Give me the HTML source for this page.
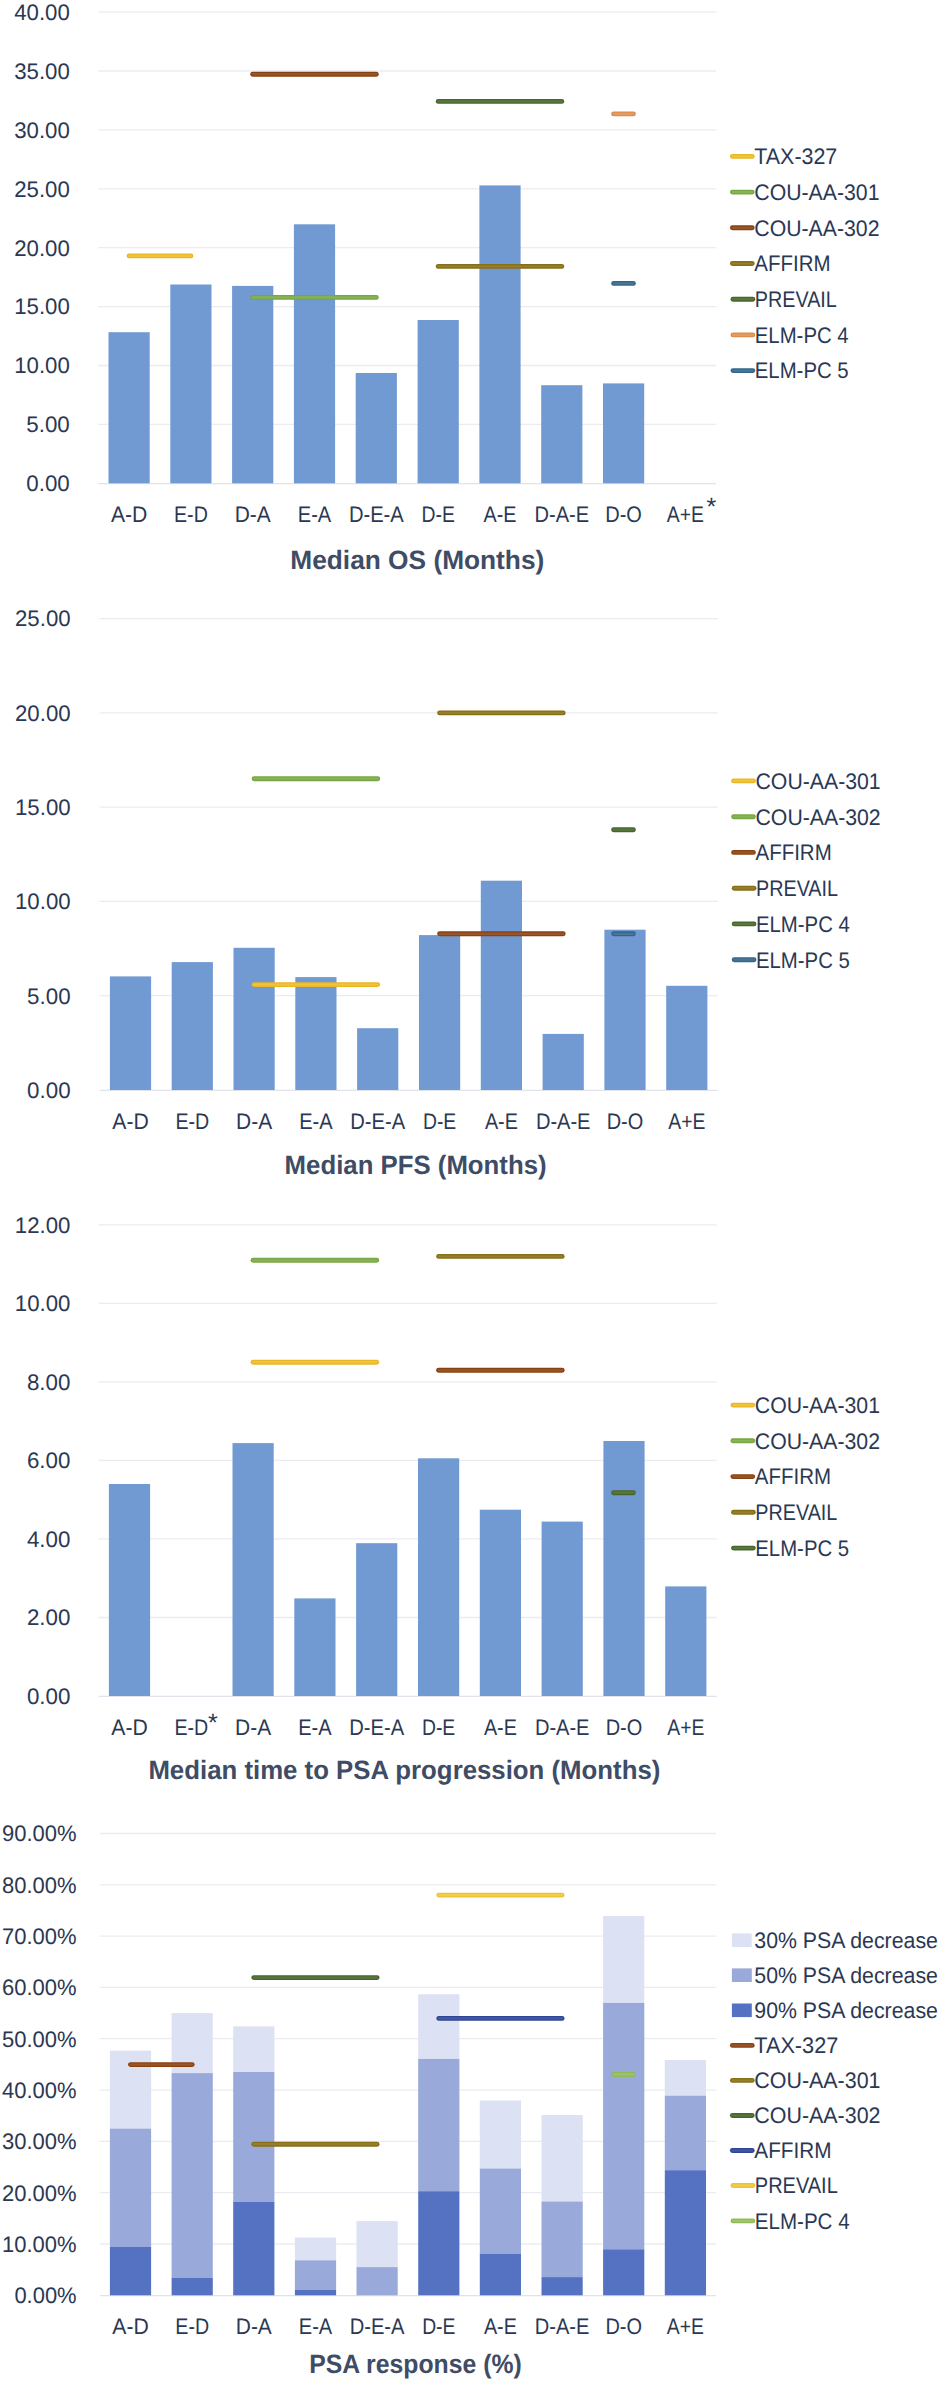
<!DOCTYPE html>
<html lang="en">
<head>
<meta charset="utf-8">
<title>Median OS, PFS, time to PSA progression and PSA response by treatment sequence</title>
<style>
html,body{margin:0;padding:0;background:#fff;}
body{width:940px;height:2381px;overflow:hidden;}
svg{display:block;}
svg text{font-family:"Liberation Sans",sans-serif;font-size:22.4px;fill:#2b3853;text-rendering:geometricPrecision;}
svg text.t{font-size:26.6px;font-weight:700;fill:#3f4c65;}
svg text.s{font-size:25px;}
</style>
</head>
<body>
<svg width="940" height="2381" viewBox="0 0 940 2381">
<rect width="940" height="2381" fill="#ffffff"/>
<g id="os">
<g stroke-linecap="butt">
<line x1="98.2" y1="12.1" x2="716.3" y2="12.1" stroke="#ebecf2" stroke-width="1.3"/>
<line x1="98.2" y1="71" x2="716.3" y2="71" stroke="#ebecf2" stroke-width="1.3"/>
<line x1="98.2" y1="129.9" x2="716.3" y2="129.9" stroke="#ebecf2" stroke-width="1.3"/>
<line x1="98.2" y1="188.8" x2="716.3" y2="188.8" stroke="#ebecf2" stroke-width="1.3"/>
<line x1="98.2" y1="247.7" x2="716.3" y2="247.7" stroke="#ebecf2" stroke-width="1.3"/>
<line x1="98.2" y1="306.6" x2="716.3" y2="306.6" stroke="#ebecf2" stroke-width="1.3"/>
<line x1="98.2" y1="365.5" x2="716.3" y2="365.5" stroke="#ebecf2" stroke-width="1.3"/>
<line x1="98.2" y1="424.4" x2="716.3" y2="424.4" stroke="#ebecf2" stroke-width="1.3"/>
<line x1="98.2" y1="483.6" x2="716.3" y2="483.6" stroke="#e1e3ea" stroke-width="1.3"/>
</g>
<rect x="108.5" y="332.2" width="41.2" height="151.1" fill="#719ad3"/>
<rect x="170.3" y="284.5" width="41.2" height="198.8" fill="#719ad3"/>
<rect x="232.1" y="285.9" width="41.2" height="197.4" fill="#719ad3"/>
<rect x="293.9" y="224.3" width="41.2" height="259" fill="#719ad3"/>
<rect x="355.7" y="373" width="41.2" height="110.3" fill="#719ad3"/>
<rect x="417.6" y="320" width="41.2" height="163.3" fill="#719ad3"/>
<rect x="479.4" y="185.4" width="41.2" height="297.9" fill="#719ad3"/>
<rect x="541.2" y="385.2" width="41.2" height="98.1" fill="#719ad3"/>
<rect x="603" y="383.4" width="41.2" height="99.9" fill="#719ad3"/>
<g stroke-linecap="round">
<line x1="129.1" y1="255.9" x2="190.9" y2="255.9" stroke="#e9b725" stroke-width="4.9"/>
<line x1="129.1" y1="255.9" x2="190.9" y2="255.9" stroke="#f1c33a" stroke-width="2.2"/>
<line x1="252.7" y1="297.4" x2="376.3" y2="297.4" stroke="#77a643" stroke-width="4.9"/>
<line x1="252.7" y1="297.4" x2="376.3" y2="297.4" stroke="#87b356" stroke-width="2.2"/>
<line x1="252.7" y1="74.2" x2="376.3" y2="74.2" stroke="#8a4212" stroke-width="4.9"/>
<line x1="252.7" y1="74.2" x2="376.3" y2="74.2" stroke="#985528" stroke-width="2.2"/>
<line x1="438.2" y1="266.4" x2="561.8" y2="266.4" stroke="#876f17" stroke-width="4.9"/>
<line x1="438.2" y1="266.4" x2="561.8" y2="266.4" stroke="#957f2d" stroke-width="2.2"/>
<line x1="438.2" y1="101.4" x2="561.8" y2="101.4" stroke="#47662b" stroke-width="4.9"/>
<line x1="438.2" y1="101.4" x2="561.8" y2="101.4" stroke="#59763f" stroke-width="2.2"/>
<line x1="613.6" y1="113.9" x2="633.4" y2="113.9" stroke="#da8d4c" stroke-width="4.9"/>
<line x1="613.6" y1="113.9" x2="633.4" y2="113.9" stroke="#e49b5e" stroke-width="2.2"/>
<line x1="613.6" y1="283.4" x2="633.4" y2="283.4" stroke="#32658a" stroke-width="4.9"/>
<line x1="613.6" y1="283.4" x2="633.4" y2="283.4" stroke="#467698" stroke-width="2.2"/>
</g>
<text x="69.8" y="19.9" text-anchor="end" textLength="55.6" lengthAdjust="spacingAndGlyphs">40.00</text>
<text x="69.8" y="78.8" text-anchor="end" textLength="55.6" lengthAdjust="spacingAndGlyphs">35.00</text>
<text x="69.8" y="137.7" text-anchor="end" textLength="55.6" lengthAdjust="spacingAndGlyphs">30.00</text>
<text x="69.8" y="196.6" text-anchor="end" textLength="55.6" lengthAdjust="spacingAndGlyphs">25.00</text>
<text x="69.8" y="255.5" text-anchor="end" textLength="55.6" lengthAdjust="spacingAndGlyphs">20.00</text>
<text x="69.8" y="314.4" text-anchor="end" textLength="55.6" lengthAdjust="spacingAndGlyphs">15.00</text>
<text x="69.8" y="373.3" text-anchor="end" textLength="55.6" lengthAdjust="spacingAndGlyphs">10.00</text>
<text x="69.8" y="432.2" text-anchor="end" textLength="43.5" lengthAdjust="spacingAndGlyphs">5.00</text>
<text x="69.8" y="491.1" text-anchor="end" textLength="43.5" lengthAdjust="spacingAndGlyphs">0.00</text>
<text x="129.1" y="522.1" text-anchor="middle" textLength="36.4" lengthAdjust="spacingAndGlyphs">A-D</text>
<text x="190.9" y="522.1" text-anchor="middle" textLength="33.8" lengthAdjust="spacingAndGlyphs">E-D</text>
<text x="252.7" y="522.1" text-anchor="middle" textLength="36" lengthAdjust="spacingAndGlyphs">D-A</text>
<text x="314.5" y="522.1" text-anchor="middle" textLength="33.4" lengthAdjust="spacingAndGlyphs">E-A</text>
<text x="376.3" y="522.1" text-anchor="middle" textLength="54.8" lengthAdjust="spacingAndGlyphs">D-E-A</text>
<text x="438.2" y="522.1" text-anchor="middle" textLength="33.3" lengthAdjust="spacingAndGlyphs">D-E</text>
<text x="500" y="522.1" text-anchor="middle" textLength="32.9" lengthAdjust="spacingAndGlyphs">A-E</text>
<text x="561.8" y="522.1" text-anchor="middle" textLength="54.6" lengthAdjust="spacingAndGlyphs">D-A-E</text>
<text x="623.6" y="522.1" text-anchor="middle" textLength="36.6" lengthAdjust="spacingAndGlyphs">D-O</text>
<text x="685.4" y="522.1" text-anchor="middle" textLength="37.1" lengthAdjust="spacingAndGlyphs">A+E</text>
<text x="706.4" y="515.4" class="s">*</text>
<g stroke-linecap="round">
<line x1="732.4" y1="156.4" x2="752.2" y2="156.4" stroke="#e9b725" stroke-width="4.9"/>
<line x1="732.4" y1="156.4" x2="752.2" y2="156.4" stroke="#f1c33a" stroke-width="2.2"/>
<line x1="732.4" y1="192.1" x2="752.2" y2="192.1" stroke="#77a643" stroke-width="4.9"/>
<line x1="732.4" y1="192.1" x2="752.2" y2="192.1" stroke="#87b356" stroke-width="2.2"/>
<line x1="732.4" y1="227.8" x2="752.2" y2="227.8" stroke="#8a4212" stroke-width="4.9"/>
<line x1="732.4" y1="227.8" x2="752.2" y2="227.8" stroke="#985528" stroke-width="2.2"/>
<line x1="732.4" y1="263.5" x2="752.2" y2="263.5" stroke="#876f17" stroke-width="4.9"/>
<line x1="732.4" y1="263.5" x2="752.2" y2="263.5" stroke="#957f2d" stroke-width="2.2"/>
<line x1="733" y1="299.2" x2="752.8" y2="299.2" stroke="#47662b" stroke-width="4.9"/>
<line x1="733" y1="299.2" x2="752.8" y2="299.2" stroke="#59763f" stroke-width="2.2"/>
<line x1="733" y1="334.9" x2="752.8" y2="334.9" stroke="#da8d4c" stroke-width="4.9"/>
<line x1="733" y1="334.9" x2="752.8" y2="334.9" stroke="#e49b5e" stroke-width="2.2"/>
<line x1="733" y1="370.6" x2="752.8" y2="370.6" stroke="#32658a" stroke-width="4.9"/>
<line x1="733" y1="370.6" x2="752.8" y2="370.6" stroke="#467698" stroke-width="2.2"/>
</g>
<text x="754.3" y="164.2" textLength="83" lengthAdjust="spacingAndGlyphs">TAX-327</text>
<text x="754.3" y="199.9" textLength="125.2" lengthAdjust="spacingAndGlyphs">COU-AA-301</text>
<text x="754.3" y="235.6" textLength="125.2" lengthAdjust="spacingAndGlyphs">COU-AA-302</text>
<text x="754.3" y="271.3" textLength="76.2" lengthAdjust="spacingAndGlyphs">AFFIRM</text>
<text x="754.8" y="307" textLength="82" lengthAdjust="spacingAndGlyphs">PREVAIL</text>
<text x="754.8" y="342.7" textLength="93.8" lengthAdjust="spacingAndGlyphs">ELM-PC 4</text>
<text x="754.8" y="378.4" textLength="93.8" lengthAdjust="spacingAndGlyphs">ELM-PC 5</text>
<text x="290.3" y="568.9" class="t" textLength="254" lengthAdjust="spacingAndGlyphs">Median OS (Months)</text>
</g>
<g id="pfs">
<g stroke-linecap="butt">
<line x1="99.6" y1="618.6" x2="717.7" y2="618.6" stroke="#ebecf2" stroke-width="1.3"/>
<line x1="99.6" y1="712.9" x2="717.7" y2="712.9" stroke="#ebecf2" stroke-width="1.3"/>
<line x1="99.6" y1="807.2" x2="717.7" y2="807.2" stroke="#ebecf2" stroke-width="1.3"/>
<line x1="99.6" y1="901.4" x2="717.7" y2="901.4" stroke="#ebecf2" stroke-width="1.3"/>
<line x1="99.6" y1="995.7" x2="717.7" y2="995.7" stroke="#ebecf2" stroke-width="1.3"/>
<line x1="99.6" y1="1090.3" x2="717.7" y2="1090.3" stroke="#e1e3ea" stroke-width="1.3"/>
</g>
<rect x="109.9" y="976.4" width="41.2" height="113.6" fill="#719ad3"/>
<rect x="171.7" y="962.1" width="41.2" height="127.9" fill="#719ad3"/>
<rect x="233.5" y="947.8" width="41.2" height="142.2" fill="#719ad3"/>
<rect x="295.3" y="977.1" width="41.2" height="112.9" fill="#719ad3"/>
<rect x="357.1" y="1028.2" width="41.2" height="61.8" fill="#719ad3"/>
<rect x="419" y="935.1" width="41.2" height="154.9" fill="#719ad3"/>
<rect x="480.8" y="880.7" width="41.2" height="209.3" fill="#719ad3"/>
<rect x="542.6" y="1033.9" width="41.2" height="56.1" fill="#719ad3"/>
<rect x="604.4" y="929.7" width="41.2" height="160.3" fill="#719ad3"/>
<rect x="666.2" y="985.8" width="41.2" height="104.2" fill="#719ad3"/>
<g stroke-linecap="round">
<line x1="254.1" y1="984.6" x2="377.7" y2="984.6" stroke="#e9b725" stroke-width="4.9"/>
<line x1="254.1" y1="984.6" x2="377.7" y2="984.6" stroke="#f1c33a" stroke-width="2.2"/>
<line x1="254.1" y1="778.7" x2="377.7" y2="778.7" stroke="#77a643" stroke-width="4.9"/>
<line x1="254.1" y1="778.7" x2="377.7" y2="778.7" stroke="#87b356" stroke-width="2.2"/>
<line x1="439.6" y1="933.8" x2="563.2" y2="933.8" stroke="#8a4212" stroke-width="4.9"/>
<line x1="439.6" y1="933.8" x2="563.2" y2="933.8" stroke="#985528" stroke-width="2.2"/>
<line x1="439.6" y1="712.9" x2="563.2" y2="712.9" stroke="#876f17" stroke-width="4.9"/>
<line x1="439.6" y1="712.9" x2="563.2" y2="712.9" stroke="#957f2d" stroke-width="2.2"/>
<line x1="613.6" y1="829.7" x2="633.4" y2="829.7" stroke="#47662b" stroke-width="4.9"/>
<line x1="613.6" y1="829.7" x2="633.4" y2="829.7" stroke="#59763f" stroke-width="2.2"/>
<line x1="613.6" y1="933.8" x2="633.4" y2="933.8" stroke="#32658a" stroke-width="4.9"/>
<line x1="613.6" y1="933.8" x2="633.4" y2="933.8" stroke="#467698" stroke-width="2.2"/>
</g>
<text x="70.6" y="626.4" text-anchor="end" textLength="55.6" lengthAdjust="spacingAndGlyphs">25.00</text>
<text x="70.6" y="720.7" text-anchor="end" textLength="55.6" lengthAdjust="spacingAndGlyphs">20.00</text>
<text x="70.6" y="815" text-anchor="end" textLength="55.6" lengthAdjust="spacingAndGlyphs">15.00</text>
<text x="70.6" y="909.2" text-anchor="end" textLength="55.6" lengthAdjust="spacingAndGlyphs">10.00</text>
<text x="70.6" y="1003.5" text-anchor="end" textLength="43.5" lengthAdjust="spacingAndGlyphs">5.00</text>
<text x="70.6" y="1097.8" text-anchor="end" textLength="43.5" lengthAdjust="spacingAndGlyphs">0.00</text>
<text x="130.5" y="1129.4" text-anchor="middle" textLength="36.4" lengthAdjust="spacingAndGlyphs">A-D</text>
<text x="192.3" y="1129.4" text-anchor="middle" textLength="33.8" lengthAdjust="spacingAndGlyphs">E-D</text>
<text x="254.1" y="1129.4" text-anchor="middle" textLength="36" lengthAdjust="spacingAndGlyphs">D-A</text>
<text x="315.9" y="1129.4" text-anchor="middle" textLength="33.4" lengthAdjust="spacingAndGlyphs">E-A</text>
<text x="377.7" y="1129.4" text-anchor="middle" textLength="54.8" lengthAdjust="spacingAndGlyphs">D-E-A</text>
<text x="439.6" y="1129.4" text-anchor="middle" textLength="33.3" lengthAdjust="spacingAndGlyphs">D-E</text>
<text x="501.4" y="1129.4" text-anchor="middle" textLength="32.9" lengthAdjust="spacingAndGlyphs">A-E</text>
<text x="563.2" y="1129.4" text-anchor="middle" textLength="54.6" lengthAdjust="spacingAndGlyphs">D-A-E</text>
<text x="625" y="1129.4" text-anchor="middle" textLength="36.6" lengthAdjust="spacingAndGlyphs">D-O</text>
<text x="686.8" y="1129.4" text-anchor="middle" textLength="37.1" lengthAdjust="spacingAndGlyphs">A+E</text>
<g stroke-linecap="round">
<line x1="733.6" y1="780.9" x2="753.4" y2="780.9" stroke="#e9b725" stroke-width="4.9"/>
<line x1="733.6" y1="780.9" x2="753.4" y2="780.9" stroke="#f1c33a" stroke-width="2.2"/>
<line x1="733.6" y1="816.7" x2="753.4" y2="816.7" stroke="#77a643" stroke-width="4.9"/>
<line x1="733.6" y1="816.7" x2="753.4" y2="816.7" stroke="#87b356" stroke-width="2.2"/>
<line x1="733.6" y1="852.4" x2="753.4" y2="852.4" stroke="#8a4212" stroke-width="4.9"/>
<line x1="733.6" y1="852.4" x2="753.4" y2="852.4" stroke="#985528" stroke-width="2.2"/>
<line x1="734.2" y1="888.2" x2="754" y2="888.2" stroke="#876f17" stroke-width="4.9"/>
<line x1="734.2" y1="888.2" x2="754" y2="888.2" stroke="#957f2d" stroke-width="2.2"/>
<line x1="734.2" y1="923.9" x2="754" y2="923.9" stroke="#47662b" stroke-width="4.9"/>
<line x1="734.2" y1="923.9" x2="754" y2="923.9" stroke="#59763f" stroke-width="2.2"/>
<line x1="734.2" y1="959.7" x2="754" y2="959.7" stroke="#32658a" stroke-width="4.9"/>
<line x1="734.2" y1="959.7" x2="754" y2="959.7" stroke="#467698" stroke-width="2.2"/>
</g>
<text x="755.5" y="788.7" textLength="125.2" lengthAdjust="spacingAndGlyphs">COU-AA-301</text>
<text x="755.5" y="824.5" textLength="125.2" lengthAdjust="spacingAndGlyphs">COU-AA-302</text>
<text x="755.5" y="860.2" textLength="76.2" lengthAdjust="spacingAndGlyphs">AFFIRM</text>
<text x="756" y="896" textLength="82" lengthAdjust="spacingAndGlyphs">PREVAIL</text>
<text x="756" y="931.7" textLength="93.8" lengthAdjust="spacingAndGlyphs">ELM-PC 4</text>
<text x="756" y="967.5" textLength="93.8" lengthAdjust="spacingAndGlyphs">ELM-PC 5</text>
<text x="284.6" y="1173.7" class="t" textLength="262" lengthAdjust="spacingAndGlyphs">Median PFS (Months)</text>
</g>
<g id="psa">
<g stroke-linecap="butt">
<line x1="98.6" y1="1224.8" x2="716.7" y2="1224.8" stroke="#ebecf2" stroke-width="1.3"/>
<line x1="98.6" y1="1303.3" x2="716.7" y2="1303.3" stroke="#ebecf2" stroke-width="1.3"/>
<line x1="98.6" y1="1381.9" x2="716.7" y2="1381.9" stroke="#ebecf2" stroke-width="1.3"/>
<line x1="98.6" y1="1460.4" x2="716.7" y2="1460.4" stroke="#ebecf2" stroke-width="1.3"/>
<line x1="98.6" y1="1538.9" x2="716.7" y2="1538.9" stroke="#ebecf2" stroke-width="1.3"/>
<line x1="98.6" y1="1617.5" x2="716.7" y2="1617.5" stroke="#ebecf2" stroke-width="1.3"/>
<line x1="98.6" y1="1696.3" x2="716.7" y2="1696.3" stroke="#e1e3ea" stroke-width="1.3"/>
</g>
<rect x="108.9" y="1484" width="41.2" height="212" fill="#719ad3"/>
<rect x="232.5" y="1443.1" width="41.2" height="252.9" fill="#719ad3"/>
<rect x="294.3" y="1598.4" width="41.2" height="97.6" fill="#719ad3"/>
<rect x="356.1" y="1543.2" width="41.2" height="152.8" fill="#719ad3"/>
<rect x="418" y="1458.3" width="41.2" height="237.7" fill="#719ad3"/>
<rect x="479.8" y="1509.7" width="41.2" height="186.3" fill="#719ad3"/>
<rect x="541.6" y="1521.6" width="41.2" height="174.4" fill="#719ad3"/>
<rect x="603.4" y="1441" width="41.2" height="255" fill="#719ad3"/>
<rect x="665.2" y="1586.4" width="41.2" height="109.6" fill="#719ad3"/>
<g stroke-linecap="round">
<line x1="253.1" y1="1362.2" x2="376.7" y2="1362.2" stroke="#e9b725" stroke-width="4.9"/>
<line x1="253.1" y1="1362.2" x2="376.7" y2="1362.2" stroke="#f1c33a" stroke-width="2.2"/>
<line x1="253.1" y1="1260.3" x2="376.7" y2="1260.3" stroke="#77a643" stroke-width="4.9"/>
<line x1="253.1" y1="1260.3" x2="376.7" y2="1260.3" stroke="#87b356" stroke-width="2.2"/>
<line x1="438.6" y1="1370.3" x2="562.2" y2="1370.3" stroke="#8a4212" stroke-width="4.9"/>
<line x1="438.6" y1="1370.3" x2="562.2" y2="1370.3" stroke="#985528" stroke-width="2.2"/>
<line x1="438.6" y1="1256.4" x2="562.2" y2="1256.4" stroke="#876f17" stroke-width="4.9"/>
<line x1="438.6" y1="1256.4" x2="562.2" y2="1256.4" stroke="#957f2d" stroke-width="2.2"/>
<line x1="613.6" y1="1492.7" x2="633.4" y2="1492.7" stroke="#47662b" stroke-width="4.9"/>
<line x1="613.6" y1="1492.7" x2="633.4" y2="1492.7" stroke="#59763f" stroke-width="2.2"/>
</g>
<text x="70.4" y="1232.6" text-anchor="end" textLength="55.6" lengthAdjust="spacingAndGlyphs">12.00</text>
<text x="70.4" y="1311.1" text-anchor="end" textLength="55.6" lengthAdjust="spacingAndGlyphs">10.00</text>
<text x="70.4" y="1389.7" text-anchor="end" textLength="43.5" lengthAdjust="spacingAndGlyphs">8.00</text>
<text x="70.4" y="1468.2" text-anchor="end" textLength="43.5" lengthAdjust="spacingAndGlyphs">6.00</text>
<text x="70.4" y="1546.7" text-anchor="end" textLength="43.5" lengthAdjust="spacingAndGlyphs">4.00</text>
<text x="70.4" y="1625.3" text-anchor="end" textLength="43.5" lengthAdjust="spacingAndGlyphs">2.00</text>
<text x="70.4" y="1703.8" text-anchor="end" textLength="43.5" lengthAdjust="spacingAndGlyphs">0.00</text>
<text x="129.5" y="1735" text-anchor="middle" textLength="36.4" lengthAdjust="spacingAndGlyphs">A-D</text>
<text x="191.3" y="1735" text-anchor="middle" textLength="33.8" lengthAdjust="spacingAndGlyphs">E-D</text>
<text x="253.1" y="1735" text-anchor="middle" textLength="36" lengthAdjust="spacingAndGlyphs">D-A</text>
<text x="314.9" y="1735" text-anchor="middle" textLength="33.4" lengthAdjust="spacingAndGlyphs">E-A</text>
<text x="376.7" y="1735" text-anchor="middle" textLength="54.8" lengthAdjust="spacingAndGlyphs">D-E-A</text>
<text x="438.6" y="1735" text-anchor="middle" textLength="33.3" lengthAdjust="spacingAndGlyphs">D-E</text>
<text x="500.4" y="1735" text-anchor="middle" textLength="32.9" lengthAdjust="spacingAndGlyphs">A-E</text>
<text x="562.2" y="1735" text-anchor="middle" textLength="54.6" lengthAdjust="spacingAndGlyphs">D-A-E</text>
<text x="624" y="1735" text-anchor="middle" textLength="36.6" lengthAdjust="spacingAndGlyphs">D-O</text>
<text x="685.8" y="1735" text-anchor="middle" textLength="37.1" lengthAdjust="spacingAndGlyphs">A+E</text>
<text x="208" y="1730.8" class="s">*</text>
<g stroke-linecap="round">
<line x1="732.9" y1="1405.1" x2="752.7" y2="1405.1" stroke="#e9b725" stroke-width="4.9"/>
<line x1="732.9" y1="1405.1" x2="752.7" y2="1405.1" stroke="#f1c33a" stroke-width="2.2"/>
<line x1="732.9" y1="1440.8" x2="752.7" y2="1440.8" stroke="#77a643" stroke-width="4.9"/>
<line x1="732.9" y1="1440.8" x2="752.7" y2="1440.8" stroke="#87b356" stroke-width="2.2"/>
<line x1="732.9" y1="1476.6" x2="752.7" y2="1476.6" stroke="#8a4212" stroke-width="4.9"/>
<line x1="732.9" y1="1476.6" x2="752.7" y2="1476.6" stroke="#985528" stroke-width="2.2"/>
<line x1="733.5" y1="1512.3" x2="753.3" y2="1512.3" stroke="#876f17" stroke-width="4.9"/>
<line x1="733.5" y1="1512.3" x2="753.3" y2="1512.3" stroke="#957f2d" stroke-width="2.2"/>
<line x1="733.5" y1="1548.1" x2="753.3" y2="1548.1" stroke="#47662b" stroke-width="4.9"/>
<line x1="733.5" y1="1548.1" x2="753.3" y2="1548.1" stroke="#59763f" stroke-width="2.2"/>
</g>
<text x="754.8" y="1412.9" textLength="125.2" lengthAdjust="spacingAndGlyphs">COU-AA-301</text>
<text x="754.8" y="1448.6" textLength="125.2" lengthAdjust="spacingAndGlyphs">COU-AA-302</text>
<text x="754.8" y="1484.4" textLength="76.2" lengthAdjust="spacingAndGlyphs">AFFIRM</text>
<text x="755.3" y="1520.1" textLength="82" lengthAdjust="spacingAndGlyphs">PREVAIL</text>
<text x="755.3" y="1555.9" textLength="93.8" lengthAdjust="spacingAndGlyphs">ELM-PC 5</text>
<text x="148.4" y="1779.2" class="t" textLength="512" lengthAdjust="spacingAndGlyphs">Median time to PSA progression (Months)</text>
</g>
<g id="resp">
<g stroke-linecap="butt">
<line x1="99.7" y1="1833.5" x2="716.2" y2="1833.5" stroke="#ebecf2" stroke-width="1.3"/>
<line x1="99.7" y1="1884.8" x2="716.2" y2="1884.8" stroke="#ebecf2" stroke-width="1.3"/>
<line x1="99.7" y1="1936.1" x2="716.2" y2="1936.1" stroke="#ebecf2" stroke-width="1.3"/>
<line x1="99.7" y1="1987.4" x2="716.2" y2="1987.4" stroke="#ebecf2" stroke-width="1.3"/>
<line x1="99.7" y1="2038.7" x2="716.2" y2="2038.7" stroke="#ebecf2" stroke-width="1.3"/>
<line x1="99.7" y1="2090.1" x2="716.2" y2="2090.1" stroke="#ebecf2" stroke-width="1.3"/>
<line x1="99.7" y1="2141.4" x2="716.2" y2="2141.4" stroke="#ebecf2" stroke-width="1.3"/>
<line x1="99.7" y1="2192.7" x2="716.2" y2="2192.7" stroke="#ebecf2" stroke-width="1.3"/>
<line x1="99.7" y1="2244" x2="716.2" y2="2244" stroke="#ebecf2" stroke-width="1.3"/>
<line x1="99.7" y1="2295.6" x2="716.2" y2="2295.6" stroke="#e1e3ea" stroke-width="1.3"/>
</g>
<rect x="109.9" y="2050.6" width="41.2" height="78" fill="#dce1f4"/>
<rect x="109.9" y="2128.6" width="41.2" height="118.1" fill="#98a9da"/>
<rect x="109.9" y="2246.7" width="41.2" height="48.6" fill="#5572c2"/>
<rect x="171.6" y="2013.1" width="41.2" height="60" fill="#dce1f4"/>
<rect x="171.6" y="2073.1" width="41.2" height="204.9" fill="#98a9da"/>
<rect x="171.6" y="2278" width="41.2" height="17.3" fill="#5572c2"/>
<rect x="233.2" y="2026.4" width="41.2" height="45.6" fill="#dce1f4"/>
<rect x="233.2" y="2072" width="41.2" height="129.7" fill="#98a9da"/>
<rect x="233.2" y="2201.7" width="41.2" height="93.6" fill="#5572c2"/>
<rect x="294.9" y="2237.5" width="41.2" height="22.8" fill="#dce1f4"/>
<rect x="294.9" y="2260.3" width="41.2" height="29.6" fill="#98a9da"/>
<rect x="294.9" y="2289.9" width="41.2" height="5.4" fill="#5572c2"/>
<rect x="356.5" y="2221.1" width="41.2" height="46" fill="#dce1f4"/>
<rect x="356.5" y="2267.1" width="41.2" height="28.2" fill="#98a9da"/>
<rect x="418.2" y="1994.2" width="41.2" height="64.7" fill="#dce1f4"/>
<rect x="418.2" y="2058.9" width="41.2" height="132.3" fill="#98a9da"/>
<rect x="418.2" y="2191.2" width="41.2" height="104.1" fill="#5572c2"/>
<rect x="479.8" y="2100.5" width="41.2" height="68" fill="#dce1f4"/>
<rect x="479.8" y="2168.5" width="41.2" height="85.1" fill="#98a9da"/>
<rect x="479.8" y="2253.6" width="41.2" height="41.7" fill="#5572c2"/>
<rect x="541.5" y="2115" width="41.2" height="86.5" fill="#dce1f4"/>
<rect x="541.5" y="2201.5" width="41.2" height="75.6" fill="#98a9da"/>
<rect x="541.5" y="2277.1" width="41.2" height="18.2" fill="#5572c2"/>
<rect x="603.1" y="1916.1" width="41.2" height="86.8" fill="#dce1f4"/>
<rect x="603.1" y="2002.9" width="41.2" height="246.4" fill="#98a9da"/>
<rect x="603.1" y="2249.3" width="41.2" height="46" fill="#5572c2"/>
<rect x="664.8" y="2060" width="41.2" height="35.7" fill="#dce1f4"/>
<rect x="664.8" y="2095.7" width="41.2" height="74.5" fill="#98a9da"/>
<rect x="664.8" y="2170.2" width="41.2" height="125.1" fill="#5572c2"/>
<g stroke-linecap="round">
<line x1="130.5" y1="2064.6" x2="192.2" y2="2064.6" stroke="#8a4212" stroke-width="4.9"/>
<line x1="130.5" y1="2064.6" x2="192.2" y2="2064.6" stroke="#985528" stroke-width="2.2"/>
<line x1="253.8" y1="2144.2" x2="377.1" y2="2144.2" stroke="#876f17" stroke-width="4.9"/>
<line x1="253.8" y1="2144.2" x2="377.1" y2="2144.2" stroke="#957f2d" stroke-width="2.2"/>
<line x1="253.8" y1="1977.6" x2="377.1" y2="1977.6" stroke="#47662b" stroke-width="4.9"/>
<line x1="253.8" y1="1977.6" x2="377.1" y2="1977.6" stroke="#59763f" stroke-width="2.2"/>
<line x1="438.8" y1="2018.4" x2="562.1" y2="2018.4" stroke="#304695" stroke-width="4.9"/>
<line x1="438.8" y1="2018.4" x2="562.1" y2="2018.4" stroke="#4458a3" stroke-width="2.2"/>
<line x1="438.8" y1="1895.1" x2="562.1" y2="1895.1" stroke="#ebc236" stroke-width="4.9"/>
<line x1="438.8" y1="1895.1" x2="562.1" y2="1895.1" stroke="#f3cd4a" stroke-width="2.2"/>
<line x1="613.6" y1="2074.5" x2="633.4" y2="2074.5" stroke="#91b859" stroke-width="4.9"/>
<line x1="613.6" y1="2074.5" x2="633.4" y2="2074.5" stroke="#9fc46b" stroke-width="2.2"/>
</g>
<text x="76.6" y="1841.3" text-anchor="end" textLength="74.6" lengthAdjust="spacingAndGlyphs">90.00%</text>
<text x="76.6" y="1892.6" text-anchor="end" textLength="74.6" lengthAdjust="spacingAndGlyphs">80.00%</text>
<text x="76.6" y="1943.9" text-anchor="end" textLength="74.6" lengthAdjust="spacingAndGlyphs">70.00%</text>
<text x="76.6" y="1995.2" text-anchor="end" textLength="74.6" lengthAdjust="spacingAndGlyphs">60.00%</text>
<text x="76.6" y="2046.5" text-anchor="end" textLength="74.6" lengthAdjust="spacingAndGlyphs">50.00%</text>
<text x="76.6" y="2097.9" text-anchor="end" textLength="74.6" lengthAdjust="spacingAndGlyphs">40.00%</text>
<text x="76.6" y="2149.2" text-anchor="end" textLength="74.6" lengthAdjust="spacingAndGlyphs">30.00%</text>
<text x="76.6" y="2200.5" text-anchor="end" textLength="74.6" lengthAdjust="spacingAndGlyphs">20.00%</text>
<text x="76.6" y="2251.8" text-anchor="end" textLength="74.6" lengthAdjust="spacingAndGlyphs">10.00%</text>
<text x="76.6" y="2303.1" text-anchor="end" textLength="62.2" lengthAdjust="spacingAndGlyphs">0.00%</text>
<text x="130.5" y="2333.9" text-anchor="middle" textLength="36.4" lengthAdjust="spacingAndGlyphs">A-D</text>
<text x="192.2" y="2333.9" text-anchor="middle" textLength="33.8" lengthAdjust="spacingAndGlyphs">E-D</text>
<text x="253.8" y="2333.9" text-anchor="middle" textLength="36" lengthAdjust="spacingAndGlyphs">D-A</text>
<text x="315.5" y="2333.9" text-anchor="middle" textLength="33.4" lengthAdjust="spacingAndGlyphs">E-A</text>
<text x="377.1" y="2333.9" text-anchor="middle" textLength="54.8" lengthAdjust="spacingAndGlyphs">D-E-A</text>
<text x="438.8" y="2333.9" text-anchor="middle" textLength="33.3" lengthAdjust="spacingAndGlyphs">D-E</text>
<text x="500.4" y="2333.9" text-anchor="middle" textLength="32.9" lengthAdjust="spacingAndGlyphs">A-E</text>
<text x="562.1" y="2333.9" text-anchor="middle" textLength="54.6" lengthAdjust="spacingAndGlyphs">D-A-E</text>
<text x="623.7" y="2333.9" text-anchor="middle" textLength="36.6" lengthAdjust="spacingAndGlyphs">D-O</text>
<text x="685.4" y="2333.9" text-anchor="middle" textLength="37.1" lengthAdjust="spacingAndGlyphs">A+E</text>
<g stroke-linecap="round">
<rect x="731.9" y="1933.4" width="19.9" height="13.6" fill="#dce1f4"/>
<rect x="731.9" y="1968.4" width="19.9" height="13.6" fill="#98a9da"/>
<rect x="731.9" y="2003.5" width="19.9" height="13.6" fill="#5572c2"/>
<line x1="732.4" y1="2045.4" x2="752.2" y2="2045.4" stroke="#8a4212" stroke-width="4.9"/>
<line x1="732.4" y1="2045.4" x2="752.2" y2="2045.4" stroke="#985528" stroke-width="2.2"/>
<line x1="732.4" y1="2080.4" x2="752.2" y2="2080.4" stroke="#876f17" stroke-width="4.9"/>
<line x1="732.4" y1="2080.4" x2="752.2" y2="2080.4" stroke="#957f2d" stroke-width="2.2"/>
<line x1="732.4" y1="2115.5" x2="752.2" y2="2115.5" stroke="#47662b" stroke-width="4.9"/>
<line x1="732.4" y1="2115.5" x2="752.2" y2="2115.5" stroke="#59763f" stroke-width="2.2"/>
<line x1="732.4" y1="2150.5" x2="752.2" y2="2150.5" stroke="#304695" stroke-width="4.9"/>
<line x1="732.4" y1="2150.5" x2="752.2" y2="2150.5" stroke="#4458a3" stroke-width="2.2"/>
<line x1="733" y1="2185.5" x2="752.8" y2="2185.5" stroke="#ebc236" stroke-width="4.9"/>
<line x1="733" y1="2185.5" x2="752.8" y2="2185.5" stroke="#f3cd4a" stroke-width="2.2"/>
<line x1="733" y1="2220.9" x2="752.8" y2="2220.9" stroke="#91b859" stroke-width="4.9"/>
<line x1="733" y1="2220.9" x2="752.8" y2="2220.9" stroke="#9fc46b" stroke-width="2.2"/>
</g>
<text x="754.3" y="1948" textLength="183.6" lengthAdjust="spacingAndGlyphs">30% PSA decrease</text>
<text x="754.3" y="1983" textLength="183.6" lengthAdjust="spacingAndGlyphs">50% PSA decrease</text>
<text x="754.3" y="2018.1" textLength="183.6" lengthAdjust="spacingAndGlyphs">90% PSA decrease</text>
<text x="754.3" y="2053.2" textLength="84" lengthAdjust="spacingAndGlyphs">TAX-327</text>
<text x="754.3" y="2088.2" textLength="126.2" lengthAdjust="spacingAndGlyphs">COU-AA-301</text>
<text x="754.3" y="2123.3" textLength="126.2" lengthAdjust="spacingAndGlyphs">COU-AA-302</text>
<text x="754.3" y="2158.3" textLength="77.2" lengthAdjust="spacingAndGlyphs">AFFIRM</text>
<text x="754.8" y="2193.3" textLength="83" lengthAdjust="spacingAndGlyphs">PREVAIL</text>
<text x="754.8" y="2228.7" textLength="94.8" lengthAdjust="spacingAndGlyphs">ELM-PC 4</text>
<text x="309.2" y="2372.6" class="t" textLength="212.5" lengthAdjust="spacingAndGlyphs">PSA response (%)</text>
</g>
</svg>
</body>
</html>
